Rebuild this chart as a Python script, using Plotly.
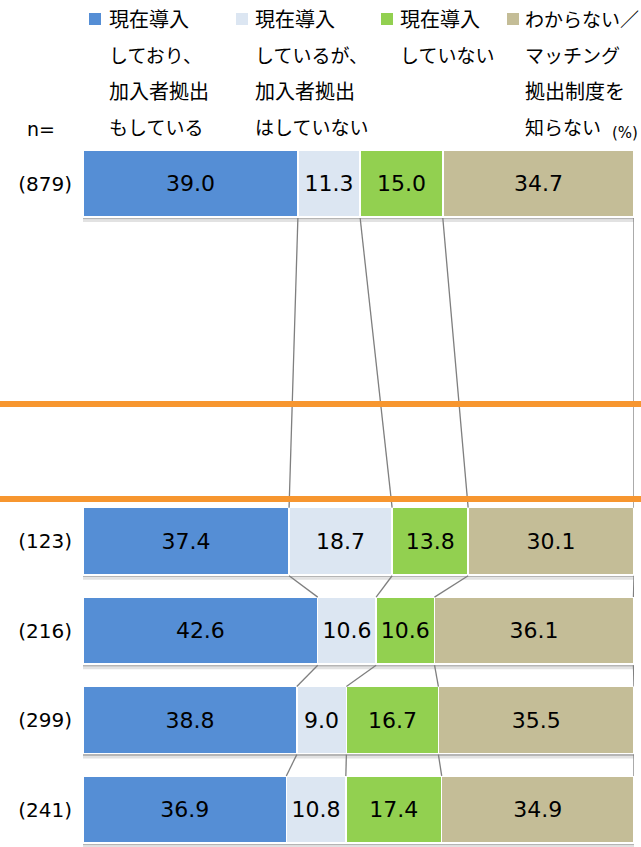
import plotly.graph_objects as go

# ---- data ----
categories = ["(879)", "(123)", "(216)", "(299)", "(241)"]
positions = [0, 4, 5, 6, 7]
series_names = [
    ["現在導入", "しており、", "加入者拠出", "もしている"],
    ["現在導入", "しているが、", "加入者拠出", "はしていない"],
    ["現在導入", "していない"],
    ["わからない／", "マッチング", "拠出制度を", "知らない"],
]
s_yes_contrib = [39.0, 37.4, 42.6, 38.8, 36.9]
s_yes_nocontrib = [11.3, 18.7, 10.6, 9.0, 10.8]
s_no = [15.0, 13.8, 10.6, 16.7, 17.4]
s_unknown = [34.7, 30.1, 36.1, 35.5, 34.9]
series = [s_yes_contrib, s_yes_nocontrib, s_no, s_unknown]
colors = ["#558ED5", "#DCE6F2", "#92D050", "#C4BD97"]

W, H = 641, 847
ML, MR, MT, MB = 83, 7, 140, 0
PH = H - MT - MB
PW = W - ML - MR
BAR_W = 0.75
UNIT = 89.43  # px per category slot
yr_top = -(183.5 - MT) / UNIT
yr_bot = 7 + (H - MB - 809.5) / UNIT


def py(p):  # pixel y -> paper
    return (H - MB - p) / PH


def px(p):  # pixel x -> paper
    return (p - ML) / PW


fig = go.Figure()

for vals, col in zip(series, colors):
    fig.add_trace(go.Bar(
        x=vals, y=positions, orientation="h", width=BAR_W,
        marker=dict(color=col, line=dict(color="white", width=1.5)),
        texttemplate="%{x:.1f}", textposition="inside",
        insidetextanchor="middle", constraintext="none",
        textfont=dict(family="DejaVu Sans", size=22, color="#000000"),
        showlegend=False, hoverinfo="skip",
    ))

# cumulative boundaries for connector lines
cums = []
for i in range(len(categories)):
    c, acc = [], 0.0
    for s in series:
        acc += s[i]
        c.append(acc)
    cums.append(c)

for i in range(len(categories) - 1):
    for k in range(len(series)):
        fig.add_trace(go.Scatter(
            x=[cums[i][k], cums[i + 1][k]],
            y=[positions[i] + BAR_W / 2 + 1 / UNIT, positions[i + 1] - BAR_W / 2],
            mode="lines", line=dict(color="#7F7F7F", width=1.3),
            showlegend=False, hoverinfo="skip",
        ))

shapes = []
# bar drop shadows
for p in positions:
    yb = p + BAR_W / 2
    shapes.append(dict(type="rect", xref="x", yref="y", x0=0, x1=100,
                       y0=yb + 0.5 / UNIT, y1=yb + 2.5 / UNIT,
                       fillcolor="#B5B5B5", line=dict(width=0), layer="below"))
    shapes.append(dict(type="rect", xref="x", yref="y", x0=0, x1=100,
                       y0=yb + 2.5 / UNIT, y1=yb + 5 / UNIT,
                       fillcolor="#E2E2E2", line=dict(width=0), layer="below"))
# orange separators
for p in [404, 499]:
    shapes.append(dict(type="line", xref="paper", yref="paper",
                       x0=px(0), x1=px(W), y0=py(p), y1=py(p),
                       line=dict(color="#F7962F", width=6), layer="above"))

annotations = []
col_marker_x = [89, 236, 381, 507]
col_text_x = [107, 253, 398, 523]
line_y = [19, 55, 91, 127]


def line_size(t):
    kanji = sum(1 for ch in t if '\u4e00' <= ch <= '\u9fff')
    return 20 if kanji >= len(t) / 2 else 19


for j, names in enumerate(series_names):
    shapes.append(dict(type="rect", xref="paper", yref="paper",
                       x0=px(col_marker_x[j]), x1=px(col_marker_x[j] + 12),
                       y0=py(line_y[0] - 6), y1=py(line_y[0] + 6),
                       fillcolor=colors[j], line=dict(width=0)))
    for r, t in enumerate(names):
        annotations.append(dict(
            text=t, xref="paper", yref="paper", x=px(col_text_x[j]), y=py(line_y[r]),
            xanchor="left", yanchor="middle", showarrow=False,
            font=dict(family="Noto Sans CJK JP", size=line_size(t), color="#000000")))

annotations.append(dict(text="n=", xref="paper", yref="paper", x=px(57), y=py(129),
                        xanchor="right", yanchor="middle", showarrow=False,
                        font=dict(family="DejaVu Sans", size=19, color="#000000")))
annotations.append(dict(text="(%)", xref="paper", yref="paper", x=px(640), y=py(133),
                        xanchor="right", yanchor="middle", showarrow=False,
                        font=dict(family="DejaVu Sans", size=15, color="#000000")))

fig.update_layout(
    width=W, height=H, margin=dict(l=ML, r=MR, t=MT, b=MB),
    barmode="stack", plot_bgcolor="white", paper_bgcolor="white",
    shapes=shapes, annotations=annotations, showlegend=False,
    xaxis=dict(range=[0, 100], visible=False, fixedrange=True),
    yaxis=dict(range=[yr_bot, yr_top], tickvals=positions, ticktext=categories,
               showgrid=False, zeroline=False, showline=False, ticks="",
               ticklabelstandoff=10,
               tickfont=dict(family="DejaVu Sans", size=20, color="#000000")),
)

fig.write_html("out.html")
